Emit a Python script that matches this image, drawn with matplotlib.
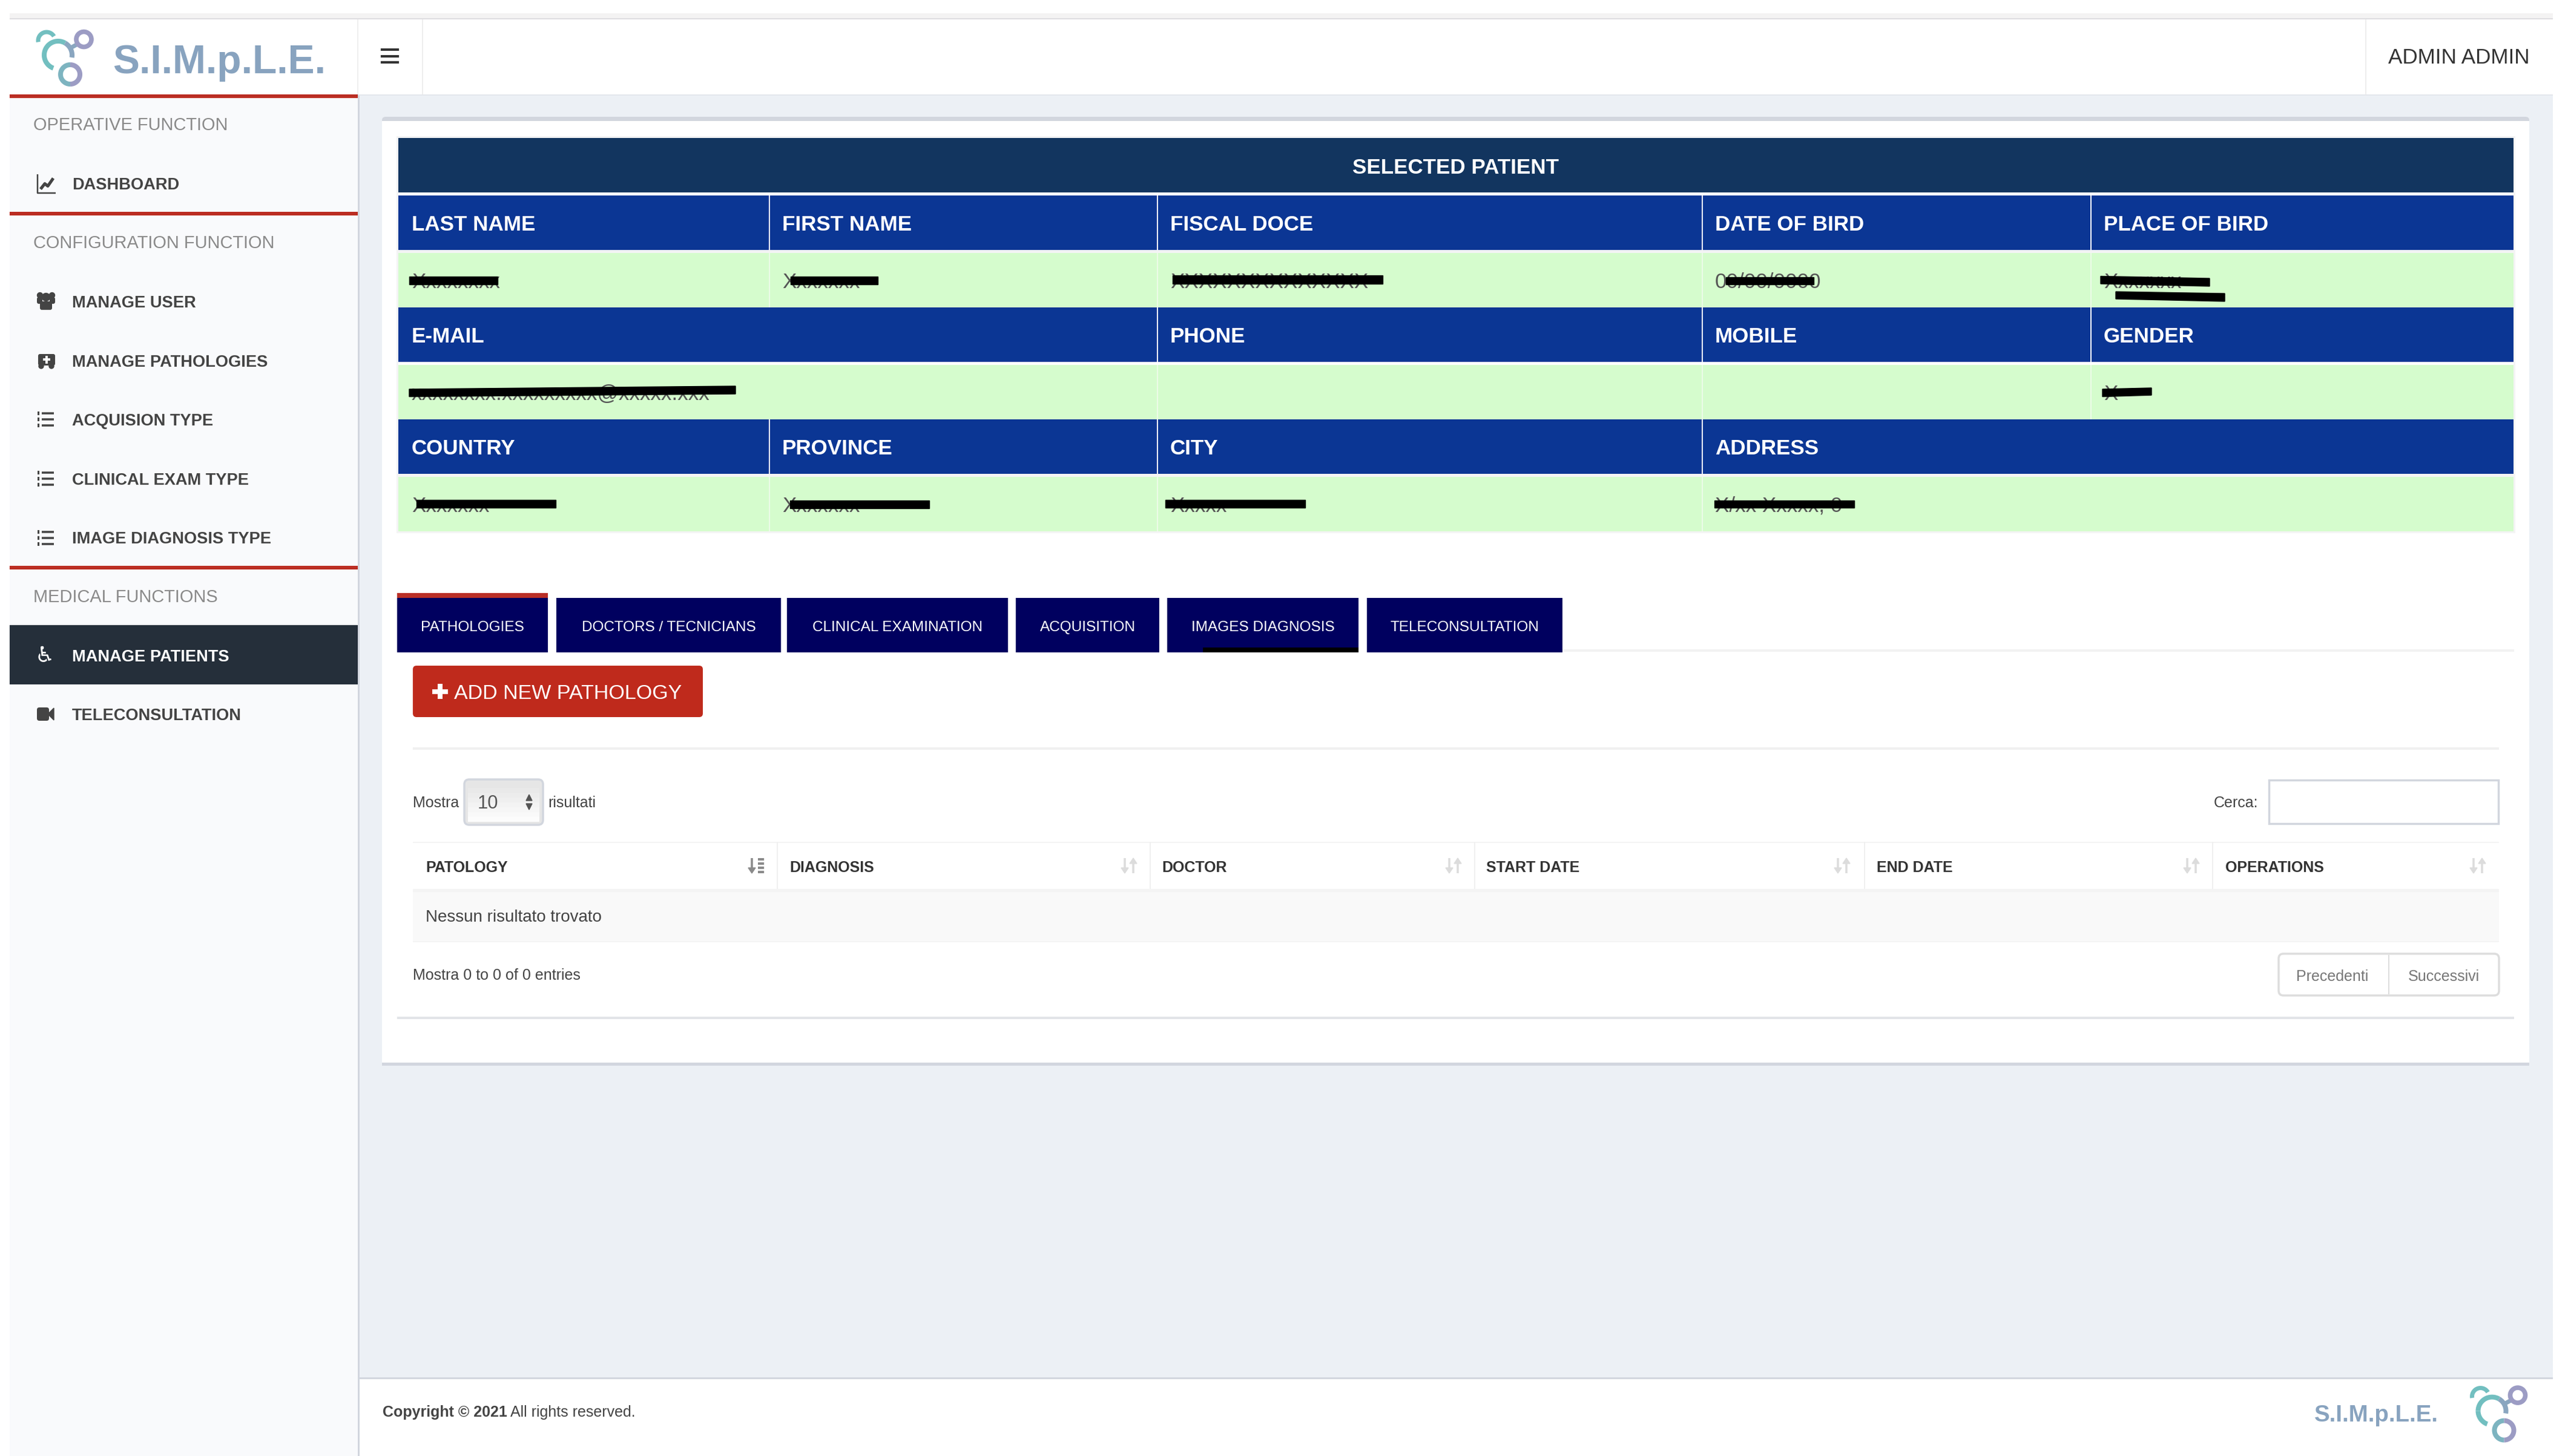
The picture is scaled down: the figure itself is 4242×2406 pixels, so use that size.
import numpy as np
import matplotlib
matplotlib.use('Agg')
import matplotlib.pyplot as plt
from matplotlib.patches import Rectangle, FancyBboxPatch, Polygon, Circle

plt.rcParams['font.family'] = ['Liberation Sans', 'DejaVu Sans']

# sidebar
section_labels = ['OPERATIVE FUNCTION', 'CONFIGURATION FUNCTION', 'MEDICAL FUNCTIONS']
section_y = [205, 400, 985]
menu_labels = ['DASHBOARD', 'MANAGE USER', 'MANAGE PATHOLOGIES', 'ACQUISION TYPE',
               'CLINICAL EXAM TYPE', 'IMAGE DIAGNOSIS TYPE', 'MANAGE PATIENTS', 'TELECONSULTATION']
menu_y = [303.5, 498, 596, 693, 791, 888.5, 1083, 1180]
menu_icons = ['chart', 'users', 'ambulance', 'list', 'list', 'list', 'wheelchair', 'video']
red_lines = [156, 350, 935]

# patient table. redacted fields hold placeholder text only
col_x = [658, 1270, 1911, 2811, 3453, 4152]
row_y = [(323, 413), (418, 508), (508, 598), (603, 693), (693, 783), (788, 878)]
head_row1 = ['LAST NAME', 'FIRST NAME', 'FISCAL DOCE', 'DATE OF BIRD', 'PLACE OF BIRD']
data_row1 = ['Xxxxxxxx', 'Xxxxxxx', 'XXXXXXXXXXXXXX', '00/00/0000', 'Xxxxxxx']
head_row2 = ['E-MAIL', '', 'PHONE', 'MOBILE', 'GENDER']
data_row2 = ['xxxxxxxx.xxxxxxxxx@xxxxx.xxx', '', '', '', 'X']
head_row3 = ['COUNTRY', 'PROVINCE', 'CITY', 'ADDRESS', '']
data_row3 = ['Xxxxxxx', 'Xxxxxxx', 'Xxxxx', 'X/xx Xxxxx, 0', '']

# black redaction strokes: x0, x1, y top/bottom on the left, y top/bottom on the right
strokes = [(676, 822, 456.5, 469.5, 456.5, 469.5), (1306, 1450, 456.5, 470, 456.5, 470),
           (1937, 2284, 455, 468.5, 455, 468.5), (676, 1215, 643, 655.5, 638, 651),
           (688, 918, 826, 839, 826, 839), (1305, 1535, 827, 840, 827, 840),
           (1925, 2156, 826, 839, 826, 839), (2851, 2996, 457.5, 470, 457.5, 470),
           (3470, 3650, 456.5, 469, 460, 473), (3495, 3675, 482, 494, 485, 498),
           (3473, 3554, 643, 655.5, 641, 653), (2832, 3063, 827, 839, 827, 839)]

# tabs
tab_labels = ['PATHOLOGIES', 'DOCTORS / TECNICIANS', 'CLINICAL EXAMINATION', 'ACQUISITION',
              'IMAGES DIAGNOSIS', 'TELECONSULTATION']
tab_edges = [(656, 905), (919, 1290), (1300, 1665), (1678, 1915), (1928, 2244), (2258, 2581)]

# pathologies table
path_cols = ['PATOLOGY', 'DIAGNOSIS', 'DOCTOR', 'START DATE', 'END DATE', 'OPERATIONS']
path_x = [703, 1304, 1919, 2455, 3100, 3676]
path_sep = [1283, 1899, 2435, 3079, 3654]
sort_x = [1236, 1852, 2388, 3030, 3607, 4080]

fig = plt.figure(figsize=(42.42, 24.06), dpi=100)
ax = fig.add_axes([0, 0, 1, 1])
ax.set_xlim(0, 4242)
ax.set_ylim(2406, 0)
ax.axis('off')


def rect(x0, y0, x1, y1, color, z=1):
    ax.add_patch(Rectangle((x0, y0), x1 - x0, y1 - y0, facecolor=color, edgecolor='none', zorder=z))


def rrect(x0, y0, x1, y1, face, edge='none', lw=0, r=6, z=1):
    ax.add_patch(FancyBboxPatch((x0 + r, y0 + r), x1 - x0 - 2 * r, y1 - y0 - 2 * r,
                                boxstyle='round,pad=%d,rounding_size=%d' % (r, r),
                                facecolor=face, edgecolor=edge, linewidth=lw, zorder=z))


def txt(x, y, s, px, color='#444444', weight='normal', ha='left'):
    # y is the middle of the capitals
    return ax.text(x, y + 0.358 * px, s, fontsize=px * 0.72, color=color, fontweight=weight,
                   ha=ha, va='baseline', zorder=3)


def line(xs, ys, color, px, z=2):
    ax.plot(xs, ys, color=color, lw=px * 0.72, solid_capstyle='butt', zorder=z)


def arc(cx, cy, r, a0, a1, color, px):
    a = np.radians(np.linspace(a0, a1, 80))
    line(cx + r * np.cos(a), cy + r * np.sin(a), color, px)


def logo(cx, cy):
    teal = '#72bfc0'
    blue = '#8aa6c0'
    purple = '#9c9cc4'
    arc(cx, cy, 23, 110, 180, teal, 8)
    arc(cx, cy, 23, 180, 300, teal, 8)
    arc(cx, cy, 23, 300, 370, blue, 8)
    line([cx + 19, cx + 32], [cy - 11, cy - 18], blue, 7)
    arc(cx - 19, cy - 24, 14, 170, 330, teal, 7)
    ax.add_patch(Circle((cx + 42.5, cy - 26), 12.5, facecolor='none', edgecolor=purple, linewidth=5.5, zorder=2))
    arc(cx + 20, cy + 32, 16, 90, 270, '#7db4c0', 8)
    arc(cx + 20, cy + 32, 16, -90, 90, purple, 8)


def icon(kind, y, color):
    x0 = 61
    if kind == 'chart':
        line([x0 + 1, x0 + 1, x0 + 31], [y - 16, y + 15, y + 15], color, 2.5)
        line([x0 + 6, x0 + 13, x0 + 18, x0 + 27], [y + 9, y, y + 4, y - 9], color, 5)
    elif kind == 'users':
        for dx, dy, r in [(5, -10, 4.5), (25, -10, 4.5), (15, -7, 6.5)]:
            ax.add_patch(Circle((x0 + dx, y + dy), r, color=color, zorder=2))
        rrect(x0, y - 7, x0 + 9, y + 4, color, r=3, z=2)
        rrect(x0 + 21, y - 7, x0 + 30, y + 4, color, r=3, z=2)
        rrect(x0 + 5, y, x0 + 25, y + 14, color, r=3, z=2)
    elif kind == 'ambulance':
        rrect(x0 + 2, y - 11, x0 + 30, y + 8, color, r=3, z=2)
        line([x0 + 16, x0 + 16], [y - 8, y + 5], 'white', 4)
        line([x0 + 10, x0 + 22], [y - 2, y - 2], 'white', 4)
        ax.add_patch(Circle((x0 + 7, y + 9), 4, color=color, zorder=2))
        ax.add_patch(Circle((x0 + 24, y + 9), 4, color=color, zorder=2))
    elif kind == 'list':
        for i in range(3):
            yy = y - 10 + i * 10
            line([x0 + 8, x0 + 28], [yy, yy], color, 3.5)
            line([x0 + 1, x0 + 4], [yy, yy], color, 6)
    elif kind == 'wheelchair':
        ax.text(x0 + 13, y + 1, '\u267f', fontsize=26, color=color, ha='center', va='center',
                family='DejaVu Sans', zorder=3)
    elif kind == 'video':
        rrect(x0, y - 11, x0 + 20, y + 11, color, r=4, z=2)
        ax.add_patch(Polygon([(x0 + 20, y - 2), (x0 + 28, y - 10), (x0 + 28, y + 10), (x0 + 20, y + 2)],
                             color=color, zorder=2))


def sort_icon(x, first=False):
    c = '#8a8a8a' if first else '#dcdcdc'
    line([x + 6, x + 6], [1418, 1436], c, 3.5)
    ax.add_patch(Polygon([(x, 1434), (x + 12, 1434), (x + 6, 1443)], color=c, zorder=2))
    if first:
        for i in range(4):
            line([x + 16, x + 26], [1420 + i * 7, 1420 + i * 7], c, 4)
    else:
        line([x + 20, x + 20], [1425, 1443], c, 3.5)
        ax.add_patch(Polygon([(x + 14, 1427), (x + 26, 1427), (x + 20, 1418)], color=c, zorder=2))


# page background
rect(0, 0, 4242, 2406, 'white', 0)
rect(16, 22, 4217, 30, '#f4f3f3')
rect(16, 30, 4217, 32, '#dedde0')
rect(592, 156, 4217, 2276, '#ecf0f5')

# sidebar
rect(16, 161, 591, 2406, '#f9fafc')
rect(591, 156, 594, 2406, '#d2d6de')
rect(16, 32, 591, 156, 'white')
for y in red_lines:
    rect(16, y, 591, y + 6, '#bb2d22')
rect(16, 1033, 591, 1131, '#252f3a')
for s, y in zip(section_labels, section_y):
    txt(55, y, s, 29, '#8a8a8a')
for s, y, k in zip(menu_labels, menu_y, menu_icons):
    col = 'white' if s == 'MANAGE PATIENTS' else '#444444'
    icon(k, y, col)
    txt(119, y, s, 27.2, col, 'bold')

# header
rect(592, 32, 4217, 156, 'white')
rect(592, 156, 4217, 158, '#e4e7ec')
for x in [590, 697, 3907]:
    rect(x, 32, x + 2, 156, '#eeeeee')
for y in [82, 93, 103]:
    rect(629, y - 2, 659, y + 2, '#333333')
logo(96, 91)
txt(186, 97, 'S.I.M.p.L.E.', 66, '#88a3bf', 'bold')
txt(3945, 92, 'ADMIN ADMIN', 35, '#333333')

# main card
rrect(631, 193, 4178, 1761, '#d2d6de', r=6)
rect(631, 200, 4178, 1756, 'white')
rect(631, 1756, 4178, 1761, '#d2d6de')
rect(656, 1680, 4153, 1684, '#e2e4e8')

# patient table
rect(655, 225, 4155, 881, '#f4f4f4')
rect(658, 228, 4152, 318, '#12355f')
rect(658, 318, 4152, 323, 'white')
txt(2405, 274, 'SELECTED PATIENT', 35, 'white', 'bold', ha='center')
rows = [head_row1, data_row1, head_row2, data_row2, head_row3, data_row3]
seps = [[1, 2, 3, 4], [1, 2, 3, 4], [2, 3, 4], [2, 3, 4], [1, 2, 3], [1, 2, 3]]
for i, (vals, (y0, y1)) in enumerate(zip(rows, row_y)):
    is_head = i % 2 == 0
    rect(658, y0, 4152, y1, '#0b3694' if is_head else '#d5fccd')
    for c in seps[i]:
        rect(col_x[c], y0, col_x[c] + 2, y1, 'white' if is_head else '#ecfbe8')
    for c, s in enumerate(vals):
        if s:
            x = col_x[c] + 22
            if is_head:
                txt(x, (y0 + y1) / 2, s, 35, 'white', 'bold')
            else:
                txt(x, (y0 + y1) / 2, s, 35, '#555555')
rect(658, 598, 4152, 603, 'white')
for x0, x1, a, b, c, d in strokes:
    ax.add_patch(Polygon([(x0, a), (x1, c), (x1, d), (x0, b)], color='black', zorder=5))

# tabs
rect(2581, 1073, 4153, 1077, '#f2f2f2')
rect(656, 980, 905, 988, '#b92f27')
for s, (x0, x1) in zip(tab_labels, tab_edges):
    rect(x0, 988, x1, 1078, '#00005f')
    txt((x0 + x1) / 2, 1034, s, 24.4, 'white', ha='center')
rect(1987, 1070, 2244, 1078, 'black', 2)

# add button
rrect(682, 1100, 1161, 1185, '#bf2a1c', r=6)
line([727, 727], [1130, 1155], 'white', 8)
line([714, 740], [1143, 1143], 'white', 8)
txt(750, 1143, 'ADD NEW PATHOLOGY', 34, 'white')
rect(682, 1235, 4128, 1239, '#f0f0f0')

# length select and search box
txt(682, 1325, 'Mostra', 25, '#444444')
rrect(767, 1288, 897, 1363, '#e6e6e6', '#d2d6de', 2.5, r=8)
for i, c in enumerate(np.linspace(0.90, 0.99, 8)):
    rect(773, 1294 + i * 8, 891, 1294 + (i + 1) * 8, (c, c, c), 2)
txt(789, 1325, '10', 31, '#555555').set_zorder(4)
ax.add_patch(Polygon([(869, 1323), (879, 1323), (874, 1313)], color='#555555', zorder=4))
ax.add_patch(Polygon([(869, 1328), (879, 1328), (874, 1338)], color='#555555', zorder=4))
txt(905, 1325, 'risultati', 25, '#444444')
txt(3657, 1325, 'Cerca:', 25, '#444444')
ax.add_patch(Rectangle((3748, 1289), 379, 72, facecolor='white', edgecolor='#d2d6de', linewidth=2.5, zorder=1))

# pathologies table
rect(682, 1391, 4128, 1393, '#f4f4f4')
rect(682, 1469, 4128, 1474, '#f4f4f4')
rect(682, 1474, 4128, 1555, '#f9f9f9')
rect(682, 1555, 4128, 1557, '#f4f4f4')
for x in path_sep:
    rect(x, 1391, x + 2, 1469, '#f0f0f0')
for s, x in zip(path_cols, path_x):
    txt(x, 1432, s, 25, '#333333', 'bold')
for i, x in enumerate(sort_x):
    sort_icon(x, i == 0)
txt(703, 1513, 'Nessun risultato trovato', 27.7, '#444444')
txt(682, 1610, 'Mostra 0 to 0 of 0 entries', 25, '#444444')

# pagination
rrect(3764, 1576, 4128, 1645, 'white', '#dddddd', 2.5, r=8)
rect(3945, 1578, 3947, 1643, '#dddddd')
txt(3853, 1612, 'Precedenti', 25, '#777777', ha='center')
txt(4037, 1612, 'Successivi', 25, '#777777', ha='center')

# footer
rect(592, 2276, 4217, 2279, '#d2d6de')
rect(594, 2279, 4217, 2406, 'white')
txt(632, 2332, 'Copyright \u00a9 2021', 25, '#444444', 'bold')
txt(843, 2332, 'All rights reserved.', 25, '#444444')
logo(4116.5, 2331.6)
txt(3823, 2335, 'S.I.M.p.L.E.', 38.4, '#88a3bf', 'bold')

fig.savefig('out.png', dpi=100)
